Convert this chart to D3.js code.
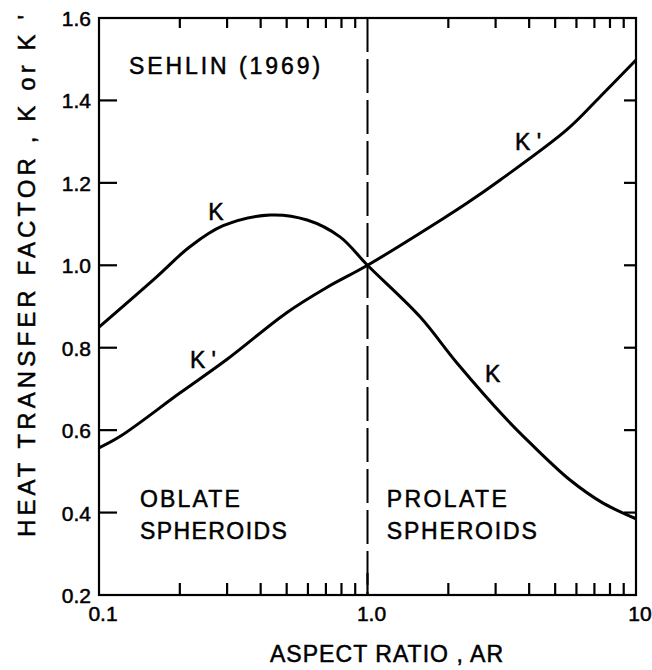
<!DOCTYPE html>
<html>
<head>
<meta charset="utf-8">
<script src="https://cdn.jsdelivr.net/npm/d3@7.9.0/dist/d3.min.js"></script>
<style>
  body { margin: 0; background: #fff; }
  svg text { font-family: "Liberation Sans", Arial, sans-serif; fill: #000; stroke: #000; stroke-width: 0.5px; }
</style>
</head>
<body>
<svg id="chart" width="652" height="670"></svg>
<script>
// K curve
const kAR  = [0.1, 0.164, 0.218, 0.29, 0.434, 0.596, 0.79, 1.0, 1.569, 2.154, 3.31, 4.03, 5.68, 7.54, 10];
const kVal = [0.85, 0.972, 1.045, 1.096, 1.122, 1.110, 1.069, 1.0, 0.875, 0.763, 0.625, 0.569, 0.479, 0.423, 0.385];

// K' curve
const kpAR  = [0.1, 0.12, 0.2, 0.3, 0.5, 0.7, 1.0, 1.91, 2.35, 3.12, 5.53, 7.35, 10];
const kpVal = [0.557, 0.585, 0.690, 0.772, 0.885, 0.945, 1.0, 1.113, 1.151, 1.207, 1.329, 1.409, 1.498];

const yTickValues = [0.2, 0.4, 0.6, 0.8, 1.0, 1.2, 1.4, 1.6];
const yTickLabels = ["0.2", "0.4", "0.6", "0.8", "1.0", "1.2", "1.4", "1.6"];
const xTickValues = [0.1, 1, 10];
const xTickLabels = ["0.1", "1.0", "10"];

const margin = { top: 18, right: 16, bottom: 75, left: 99 };
const W = 652, H = 670;
const width = W - margin.left - margin.right;
const height = H - margin.top - margin.bottom;

const svg = d3.select('#chart');
const g = svg.append('g').attr('transform', `translate(${margin.left},${margin.top})`);

const x = d3.scaleLog().domain([0.1, 10]).range([0, width]);
const y = d3.scaleLinear().domain([0.2, 1.6]).range([height, 0]);

// minor ticks on the log axis
const minor = [];
[0.1, 1].forEach(d => { for (let i = 2; i <= 9; i++) minor.push(d * i); });
const innerY = yTickValues.slice(1, -1);

// frame
g.append('rect')
  .attr('width', width).attr('height', height)
  .attr('fill', 'none').attr('stroke', '#000').attr('stroke-width', 2.2);

// tick marks, all pointing inward
const tickSegs = [];
minor.forEach(d => tickSegs.push([x(d), height, x(d), height - 12]));
tickSegs.push([x(1), height, x(1), height - 22]);
minor.forEach(d => tickSegs.push([x(d), 0, x(d), 10]));
innerY.forEach(d => tickSegs.push([0, y(d), 18, y(d)]));
innerY.forEach(d => tickSegs.push([width - 12, y(d), width, y(d)]));

g.append('g').selectAll('line').data(tickSegs).join('line')
  .attr('x1', d => d[0]).attr('y1', d => d[1])
  .attr('x2', d => d[2]).attr('y2', d => d[3])
  .attr('stroke', '#000').attr('stroke-width', 2.2);

// tick labels
g.append('g').selectAll('text').data(yTickValues).join('text')
  .attr('x', -8).attr('y', d => y(d)).attr('dy', '0.38em')
  .attr('text-anchor', 'end')
  .style('font-size', '21px')
  .text((d, i) => yTickLabels[i]);
g.append('g').selectAll('text').data(xTickValues).join('text')
  .attr('x', d => x(d) + 4).attr('y', height + 26)
  .attr('text-anchor', 'middle')
  .style('font-size', '21px')
  .text((d, i) => xTickLabels[i]);

// dashed divider at AR = 1
g.append('line')
  .attr('x1', x(1)).attr('x2', x(1))
  .attr('y1', 0).attr('y2', height)
  .attr('stroke', '#000').attr('stroke-width', 2)
  .attr('stroke-dasharray', '34,7');

// curves
const line = d3.line()
  .x(d => x(d[0]))
  .y(d => y(d[1]))
  .curve(d3.curveCatmullRom.alpha(0.5));

g.append('path')
  .datum(d3.zip(kAR, kVal))
  .attr('d', line)
  .attr('fill', 'none').attr('stroke', '#000').attr('stroke-width', 3);

g.append('path')
  .datum(d3.zip(kpAR, kpVal))
  .attr('d', line)
  .attr('fill', 'none').attr('stroke', '#000').attr('stroke-width', 3);

// annotations
const notes = [
  { t: "SEHLIN (1969)", ar: 0.1294, v: 1.465, len: 191, fs: 23 },
  { t: "K", ar: 0.255, v: 1.11, fs: 23 },
  { t: "K '", ar: 0.218, v: 0.751, fs: 23 },
  { t: "K '", ar: 3.54, v: 1.28, fs: 23 },
  { t: "K", ar: 2.74, v: 0.717, fs: 23 },
  { t: "OBLATE", ar: 0.142, v: 0.414, len: 100, fs: 23 },
  { t: "SPHEROIDS", ar: 0.142, v: 0.336, len: 147, fs: 23 },
  { t: "PROLATE", ar: 1.18, v: 0.414, len: 120, fs: 23 },
  { t: "SPHEROIDS", ar: 1.18, v: 0.336, len: 150, fs: 23 }
];
notes.forEach(n => {
  const t = g.append('text')
    .attr('x', x(n.ar)).attr('y', y(n.v))
    .style('font-size', n.fs + 'px')
    .text(n.t);
  if (n.len) t.attr('textLength', n.len).attr('lengthAdjust', 'spacing');
});

// axis titles
svg.append('text')
  .attr('x', 270).attr('y', 662)
  .attr('textLength', 233).attr('lengthAdjust', 'spacing')
  .style('font-size', '23px')
  .text('ASPECT RATIO , AR');

svg.append('text')
  .attr('transform', 'translate(35,537) rotate(-90)')
  .attr('textLength', 522).attr('lengthAdjust', 'spacing')
  .style('font-size', '24px')
  .text("HEAT TRANSFER FACTOR , K or K '");
</script>
</body>
</html>
